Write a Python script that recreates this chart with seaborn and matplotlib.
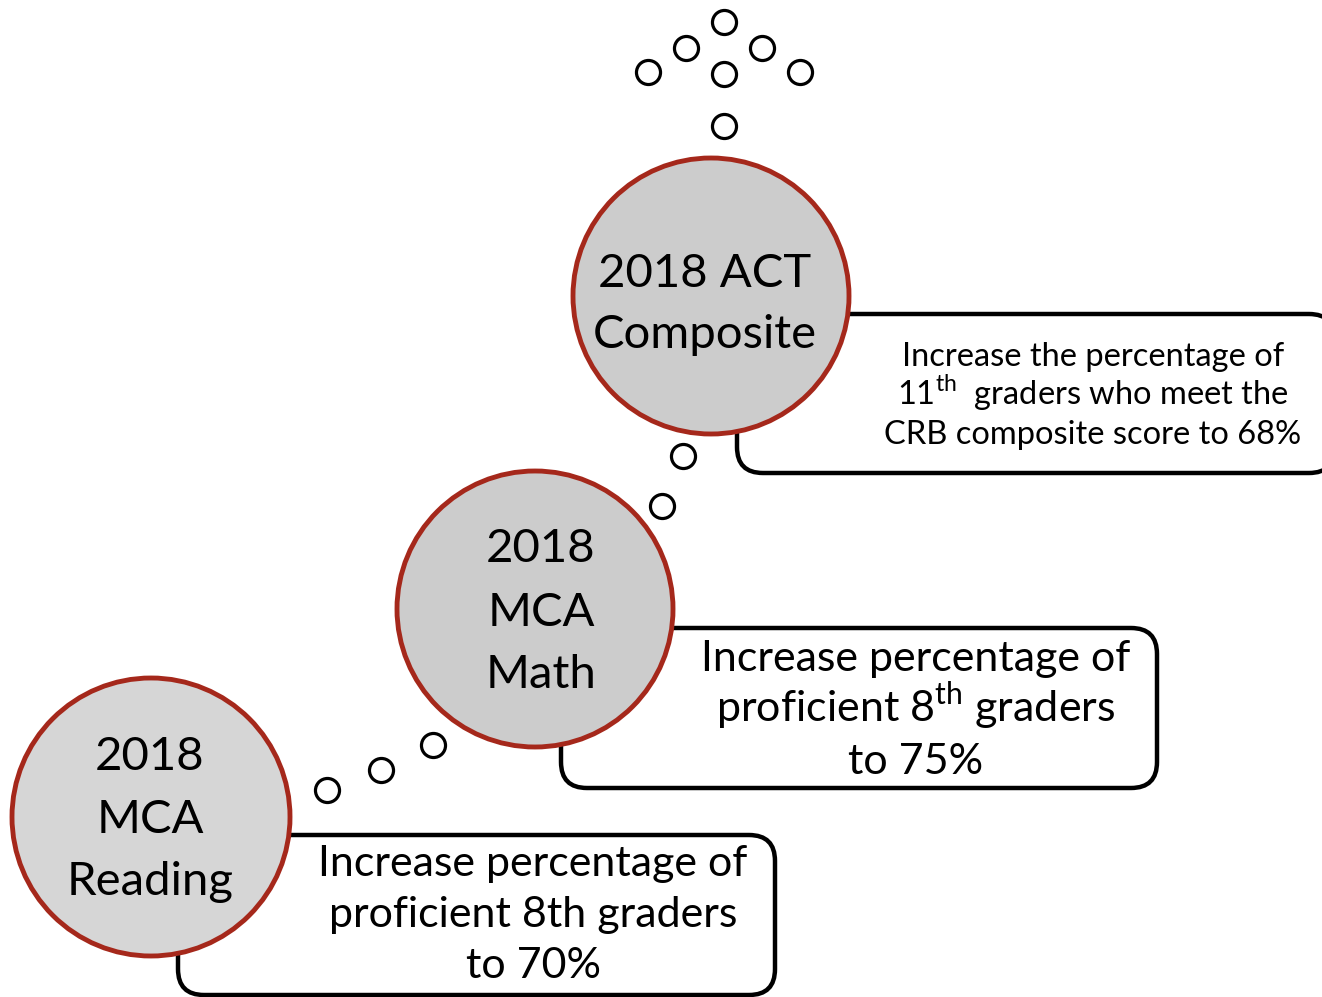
import seaborn as sns
import pandas as pd
import matplotlib.pyplot as plt
from matplotlib.patches import Circle, FancyBboxPatch

sns.set_style("white")
plt.rcParams['font.family'] = ['Lato', 'DejaVu Sans']
plt.rcParams['mathtext.fontset'] = 'custom'
plt.rcParams['mathtext.rm'] = 'Lato'

# goal milestones (big circles)
labels = [["2018", "MCA", "Reading"], ["2018", "MCA", "Math"], ["2018 ACT", "Composite"]]
circle_x = [151, 535, 711]
circle_y = [817, 609, 296]
circle_r = [139, 138, 138]
circle_fill = ['#d6d6d6', '#cccccc', '#cccccc']
label_x = [150, 541, 705]
label_base = [[770, 833, 895], [562, 626, 688], [287, 348]]

# target boxes
box_left = [178, 561, 737]
box_top = [835, 628, 314]
box_right = [775, 1157, 1335]
box_bottom = [995, 788, 473]
box_text = [
    ["Increase percentage of", "proficient 8th graders", "to 70%"],
    ["Increase percentage of", "proficient 8$^{\\mathrm{th}}$ graders", "to 75%"],
    ["Increase the percentage of", "11$^{\\mathrm{th}}$  graders who meet the",
     "CRB composite score to 68%"],
]
box_text_x = [533, 916, 1093]
box_text_base = [[876, 927, 978], [671, 722, 774], [366, 405, 444]]
box_font = [31, 31, 23.5]

# small stepping-stone rings
dot_x = [327, 381, 433, 662, 683, 724, 648, 686, 724, 762, 800, 724]
dot_y = [790, 770, 745, 506, 456, 126, 72, 48, 74, 48, 72, 22]
dots = pd.DataFrame({"x": dot_x, "y": dot_y})

fig = plt.figure(figsize=(13.22, 9.97), dpi=100)
ax = fig.add_axes([0, 0, 1, 1])

# target boxes
for i in range(3):
    l, t, r, b = box_left[i], box_top[i], box_right[i], box_bottom[i]
    ax.add_patch(FancyBboxPatch((l, t), r - l, b - t,
                                boxstyle="round,pad=0,rounding_size=26",
                                facecolor='white', edgecolor='black', lw=3.2, zorder=1))
    for line, yb in zip(box_text[i], box_text_base[i]):
        ax.text(box_text_x[i], yb, line, ha='center', va='baseline',
                fontsize=box_font[i], color='black', zorder=4)

# milestone circles
for i in range(3):
    ax.add_patch(Circle((circle_x[i], circle_y[i]), circle_r[i],
                        facecolor=circle_fill[i], edgecolor='#a5281b', lw=3.5, zorder=2))
    for line, yb in zip(labels[i], label_base[i]):
        ax.text(label_x[i], yb, line, ha='center', va='baseline', fontsize=34,
                color='black', zorder=4)

sns.scatterplot(data=dots, x="x", y="y", ax=ax, marker='o', s=300,
                facecolor='white', edgecolor='black', linewidth=2.3, zorder=3)

ax.set_xlim(0, 1322)
ax.set_ylim(997, 0)
ax.set_aspect('equal')
ax.axis('off')

plt.savefig("out.png", dpi=100)
